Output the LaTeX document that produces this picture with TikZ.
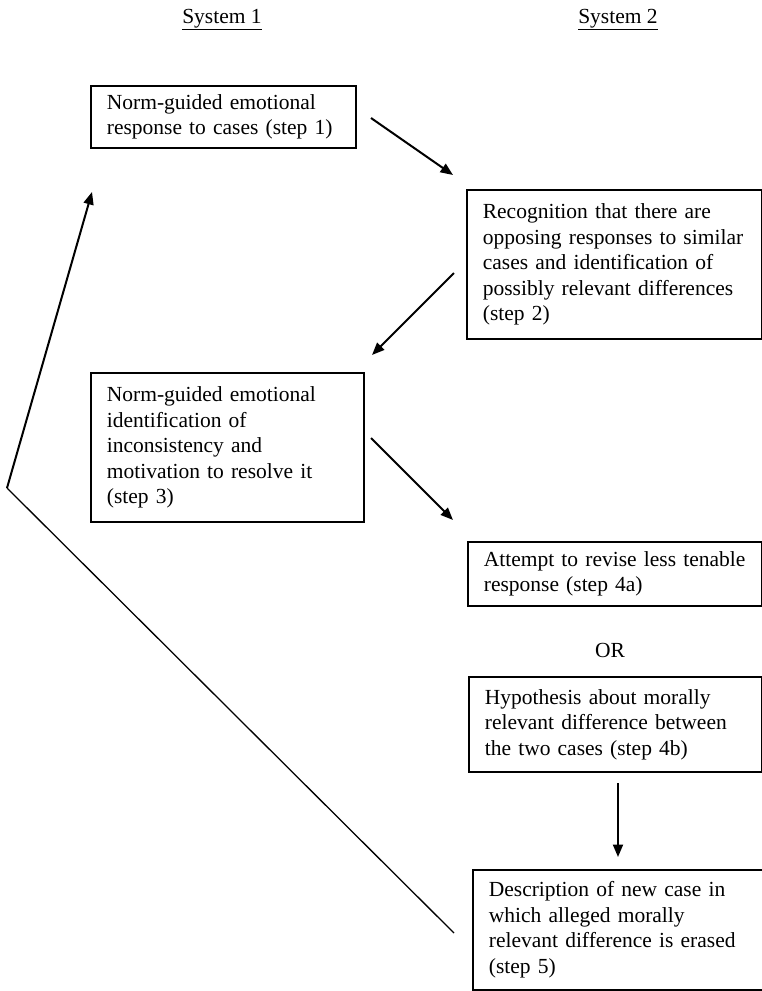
\documentclass[tikz,border=0pt]{standalone}
\usepackage{fontspec}
\setmainfont{Liberation Serif}
\usetikzlibrary{arrows.meta}

\begin{document}
\begin{tikzpicture}[
  x=1pt, y=-1pt,
  >={Triangle[length=12.5pt, width=10pt]},
  every node/.style={font=\fontsize{21.5}{25.5}\selectfont},
  stepbox/.style={draw, line width=1.7pt, anchor=north west, align=left,
                  inner xsep=16pt, inner ysep=0pt},
  arr/.style={->, line width=2pt},
  back/.style={line width=1.3pt},
]
\useasboundingbox (0,0) rectangle (762,991);
\clip (0,0) rectangle (762,991);

\node[anchor=base] (sys1) at (222,23) {\underline{System 1}};
\node[anchor=base] (sys2) at (618,23) {\underline{System 2}};

\node[stepbox, text width=233pt, minimum height=62pt] (s1) at (90,85)
  {Norm-guided emotional\\response to cases (step 1)};
\node[stepbox, text width=263pt, minimum height=149pt] (s2) at (466,189)
  {Recognition that there are\\opposing responses to similar\\cases and identification of\\possibly relevant differences\\(step 2)};
\node[stepbox, text width=241pt, minimum height=149pt] (s3) at (90,372)
  {Norm-guided emotional\\identification of\\inconsistency and\\motivation to resolve it\\(step 3)};
\node[stepbox, text width=262pt, minimum height=64pt] (s4a) at (467,541)
  {Attempt to revise less tenable\\response (step 4a)};
\node[anchor=base] (or) at (610,657) {OR};
\node[stepbox, text width=261pt, minimum height=95pt] (s4b) at (468,676)
  {Hypothesis about morally\\relevant difference between\\the two cases (step 4b)};
\node[stepbox, text width=268pt, minimum height=120pt] (s5) at (472,869)
  {Description of new case in\\which alleged morally\\relevant difference is erased\\(step 5)};

\coordinate (a1s) at (371,118);
\coordinate (a1e) at (453,175);
\coordinate (a2s) at (454,273);
\coordinate (a2e) at (372,355);
\coordinate (a3s) at (371,438);
\coordinate (a3e) at (453,520);
\coordinate (a4s) at (618,783);
\coordinate (a4e) at (618,857);
\coordinate (apex) at (7,488);
\coordinate (upend) at (92,192);
\coordinate (backs) at (454,933);

\draw[arr] (a1s) -- (a1e);
\draw[arr] (a2s) -- (a2e);
\draw[arr] (a3s) -- (a3e);
\draw[arr] (a4s) -- (a4e);
\draw[back] (backs) -- (apex);
\draw[arr] (apex) -- (upend);
\end{tikzpicture}
\end{document}
